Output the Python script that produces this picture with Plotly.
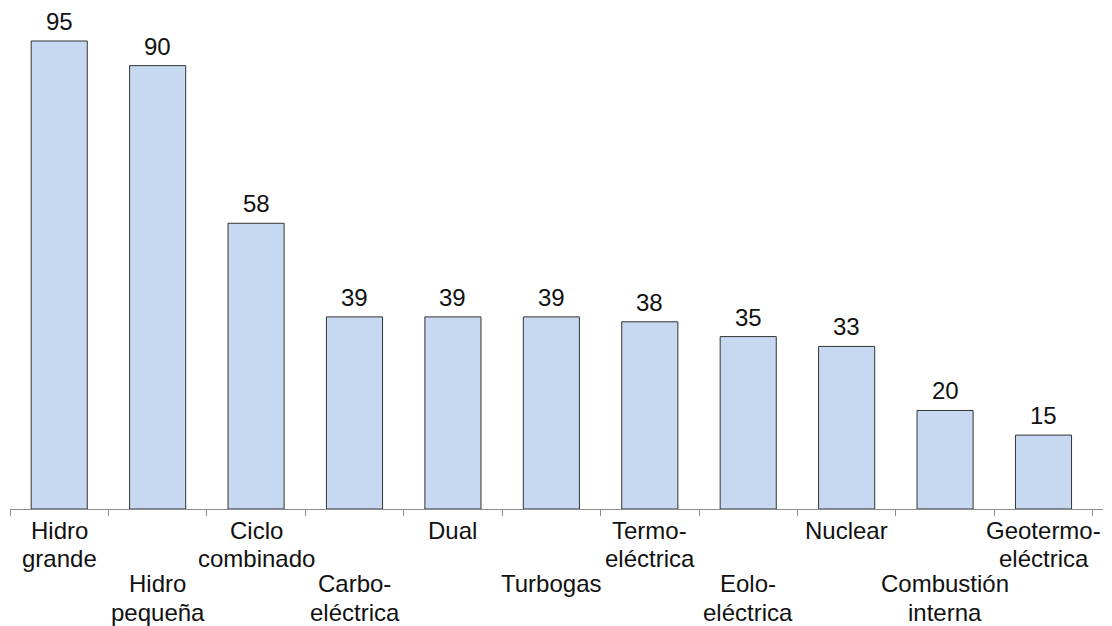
import plotly.graph_objects as go

categories = ["Hidro grande", "Hidro pequeña", "Ciclo combinado", "Carbo-eléctrica",
              "Dual", "Turbogas", "Termo-eléctrica", "Eolo-eléctrica", "Nuclear",
              "Combustión interna", "Geotermo-eléctrica"]
label_lines = [["Hidro", "grande"], ["Hidro", "pequeña"], ["Ciclo", "combinado"],
               ["Carbo-", "eléctrica"], ["Dual"], ["Turbogas"], ["Termo-", "eléctrica"],
               ["Eolo-", "eléctrica"], ["Nuclear"], ["Combustión", "interna"],
               ["Geotermo-", "eléctrica"]]
values = [95, 90, 58, 39, 39, 39, 38, 35, 33, 20, 15]

FONT = "Liberation Sans, Arial, sans-serif"
TXT = "#111111"

fig = go.Figure(go.Bar(
    x=categories, y=values,
    marker=dict(color="#C6D9F1", line=dict(color="#333333", width=1)),
    cliponaxis=False, width=0.57,
))

for c, v in zip(categories, values):
    fig.add_annotation(x=c, y=v, text=str(v), showarrow=False, yanchor="bottom", yshift=4,
                       font=dict(family=FONT, size=24, color=TXT))

LINE = 28.5
for i, (c, lines) in enumerate(zip(categories, label_lines)):
    base = -5.5 if i % 2 == 0 else -59
    for j, ln in enumerate(lines):
        fig.add_annotation(x=c, xref="x", y=0, yref="paper", text=ln, showarrow=False,
                           yanchor="top", yshift=base - j * LINE,
                           font=dict(family=FONT, size=24, color=TXT))

fig.update_layout(
    width=1104, height=618, margin=dict(l=2, r=9, t=0, b=117),
    paper_bgcolor="white", plot_bgcolor="white", showlegend=False,
    xaxis=dict(showticklabels=False, showline=True, linecolor="#8c8c8c", linewidth=1,
               ticks="outside", tickson="boundaries", ticklen=6, tickcolor="#8c8c8c",
               showgrid=False),
    yaxis=dict(range=[0, 101.7], visible=False, showgrid=False),
)

fig.write_html("out.html")
